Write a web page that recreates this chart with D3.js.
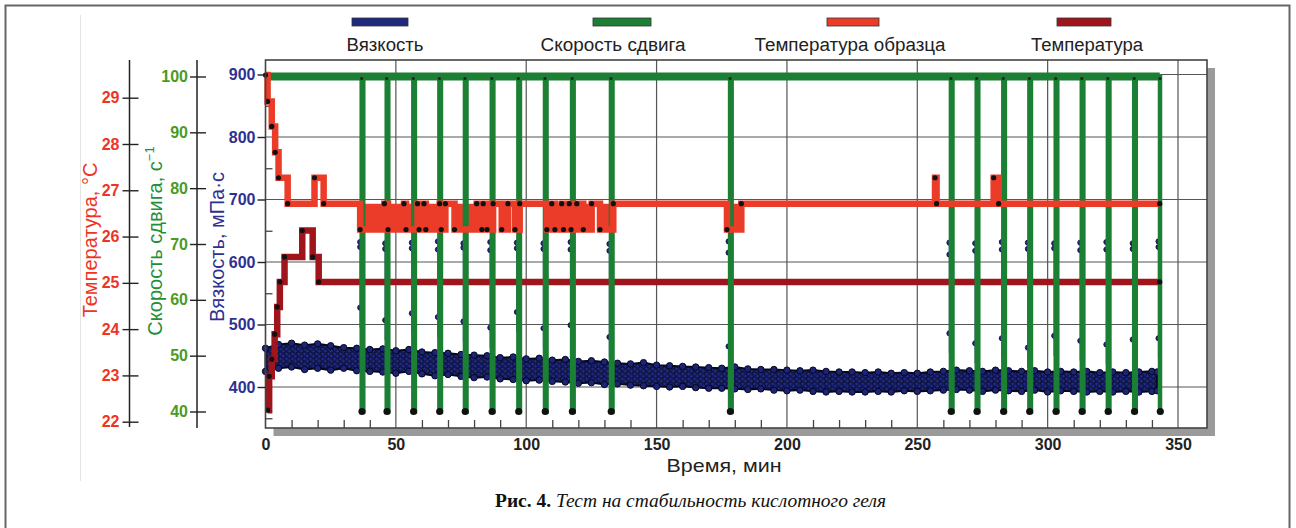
<!DOCTYPE html>
<html>
<head>
<meta charset="utf-8">
<script src="https://cdn.jsdelivr.net/npm/d3@7"></script>
<style>
  body { margin: 0; background: #fff; }
  svg { display: block; font-family: "Liberation Sans", Arial, sans-serif; }
</style>
</head>
<body>
<svg id="chart" width="1296" height="528"></svg>
<script>
// ---- data ----
const legendNames = ["Вязкость", "Скорость сдвига", "Температура образца", "Температура"];
const timeTicks = [0, 50, 100, 150, 200, 250, 300, 350];
const viscTicks = [900, 800, 700, 600, 500, 400];
const shearTicks = [100, 90, 80, 70, 60, 50, 40];
const tempTicks = [29, 28, 27, 26, 25, 24, 23, 22];

// viscosity band (upper / lower edge of the dot cloud), mPa·s
const viscTime = [0, 5, 10, 15, 20, 25, 30, 35, 40, 45, 50, 55, 60, 65, 70, 75, 80, 85, 90, 95,
  100, 105, 110, 115, 120, 125, 130, 135, 140, 145, 150, 155, 160, 165, 170, 175, 180, 185, 190, 195,
  200, 205, 210, 215, 220, 225, 230, 235, 240, 245, 250, 255, 260, 265, 270, 275, 280, 285, 290, 295,
  300, 305, 310, 315, 320, 325, 330, 335, 340, 342];
const viscUpper = [462, 468, 470, 467, 469, 466, 463, 462, 460, 461, 458, 460, 456, 455, 454, 452, 451, 450, 447, 448,
  445, 446, 443, 444, 441, 442, 440, 438, 437, 439, 435, 434, 433, 432, 431, 430, 432, 429, 428, 428,
  427, 426, 427, 425, 424, 424, 423, 424, 422, 423, 422, 424, 425, 427, 426, 425, 427, 426, 425, 426,
  424, 425, 424, 425, 423, 424, 423, 424, 425, 424];
const viscLower = [425, 430, 432, 428, 430, 427, 430, 426, 425, 424, 422, 425, 421, 418, 420, 417, 415, 416, 413, 412,
  410, 411, 409, 408, 406, 407, 404, 405, 403, 402, 401, 400, 401, 399, 398, 398, 397, 396, 397, 395,
  394, 395, 393, 392, 393, 392, 392, 393, 392, 394, 393, 394, 395, 396, 395, 393, 395, 394, 393, 395,
  392, 394, 393, 392, 393, 392, 393, 392, 393, 394];

// shear-rate drops (min) and viscosity readings at those drops
const dipTimes = [36.9, 46.5, 56.7, 66.7, 76.5, 86.8, 97.0, 107.2, 117.6, 132.5,
  178.2, 262.9, 272.8, 283.0, 293.0, 303.1, 313.1, 323.1, 333.2, 343.1];
const spikeA = [632, 630, 631, 633, 630, 632, 631, 630, 632, 629, 633, 631, 630, 632, 631, 630, 631, 632, 630, 633];
const spikeB = [624, 621, 622, 620, 623, 619, 622, 621, 620, 618, 615, 612, 618, 620, 621, 622, 619, 620, 621, 624];
const spikeMid = [527, 507, 518, 512, 505, 495, 520, 494, 499, 480, 465, 486, 470, 478, 463, 482, 474, 468, 476, 478];
const shearHigh = 100;
const shearLow = 40;
const shearEnd = 343;

// sample temperature, °C (step series)
const sampleTime = [0, 0.8, 2.4, 3.7, 5.0, 8.5, 18.8, 22.3,
  36.3, 45.6, 47.0, 53.1, 53.9, 58.3, 58.9, 60.8, 61.5, 66.8, 67.4, 69.0, 72.5, 81.0, 83.0, 83.5, 85.0, 87.3, 90.6, 93.0, 95.7, 97.5,
  107.9, 109.8, 111.0, 113.6, 114.3, 116.5, 117.2, 119.4, 121.9, 125.1, 128.3, 133.4,
  177.0, 182.5, 256.8, 257.4, 279.3, 281.2, 343];
const sampleTemp = [29.49, 28.92, 28.38, 27.82, 27.27, 26.71, 27.27, 26.71,
  26.15, 26.71, 26.15, 26.71, 26.15, 26.71, 26.15, 26.71, 26.15, 26.71, 26.15, 26.71, 26.15, 26.71, 26.15, 26.71, 26.15, 26.71, 26.15, 26.71, 26.15, 26.71,
  26.15, 26.71, 26.15, 26.71, 26.15, 26.71, 26.15, 26.71, 26.15, 26.71, 26.15, 26.71,
  26.15, 26.71, 27.27, 26.71, 27.27, 26.71, 26.71];
const sampleBase = 26.71;

// chamber temperature, °C (step series)
const tempTime = [0.8, 1.4, 2.4, 3.5, 4.5, 5.5, 7.3, 14.1, 18.1, 20.4, 343];
const tempVal = [22.25, 22.98, 23.35, 23.89, 24.48, 25.02, 25.56, 26.13, 25.56, 25.02, 25.02];

// ---- colours ----
const cNavy = "#1f2a7e", cGreen = "#1b7f34", cRed = "#ea3c28", cDark = "#a0141c";
const cNavyText = "#2e3192", cGreenText = "#4b9b1e", cGreenTitle = "#1f8f3a", cRedText = "#ee3524";

const svg = d3.select("#chart");

// scales
const x = d3.scaleLinear().domain([0, 350]).range([265.5, 1178]);
const yV = d3.scaleLinear().domain([900, 400]).range([74.5, 387]);
const yS = d3.scaleLinear().domain([100, 40]).range([76.5, 411.5]);
const yT = d3.scaleLinear().domain([29, 22]).range([97.7, 421.7]);

const box = { left: x(0), right: 1207, top: 60, bottom: 428 };

// outer frame + faint figure edge
svg.append("rect").attr("x", 5.5).attr("y", 5.5).attr("width", 1284).attr("height", 600)
  .attr("fill", "none").attr("stroke", "#666").attr("stroke-width", 2);
svg.append("line").attr("x1", 80.5).attr("x2", 80.5).attr("y1", 15).attr("y2", 481)
  .attr("stroke", "#e4e4e4").attr("stroke-width", 1);

// dotted texture for the viscosity cloud
const defs = svg.append("defs");
const pat = defs.append("pattern").attr("id", "dots").attr("patternUnits", "userSpaceOnUse")
  .attr("width", 6).attr("height", 5);
pat.append("rect").attr("width", 6).attr("height", 5).attr("fill", "#161d5e");
pat.append("circle").attr("cx", 1.5).attr("cy", 1.3).attr("r", 1.9)
  .attr("fill", "#202a86").attr("stroke", "#05081f").attr("stroke-width", 0.8);
pat.append("circle").attr("cx", 4.5).attr("cy", 3.8).attr("r", 1.9)
  .attr("fill", "#202a86").attr("stroke", "#05081f").attr("stroke-width", 0.8);

// plot box with shadow
svg.append("rect").attr("x", box.left + 8).attr("y", box.top + 8)
  .attr("width", box.right - box.left).attr("height", box.bottom - box.top)
  .attr("fill", "#9a9a9a");
svg.append("rect").attr("x", box.left).attr("y", box.top)
  .attr("width", box.right - box.left).attr("height", box.bottom - box.top)
  .attr("fill", "#fff");

// grid
svg.append("g").selectAll("line").data(timeTicks.slice(1)).join("line")
  .attr("x1", d => x(d)).attr("x2", d => x(d))
  .attr("y1", box.top).attr("y2", box.bottom)
  .attr("stroke", "#555").attr("stroke-width", 1.2);
svg.append("g").selectAll("line").data(viscTicks).join("line")
  .attr("x1", box.left).attr("x2", box.right)
  .attr("y1", d => yV(d)).attr("y2", d => yV(d))
  .attr("stroke", "#555").attr("stroke-width", 1.2);

// inner minor ticks
const minorTimes = d3.range(10, 350, 10).filter(t => t % 50 !== 0);
svg.append("g").attr("transform", `translate(0,${box.bottom})`)
  .call(d3.axisTop(x).tickValues(minorTimes).tickSize(8).tickFormat(""))
  .call(g => g.select(".domain").remove())
  .selectAll("line").attr("stroke", "#444").attr("stroke-width", 1.3);
svg.append("g").attr("transform", `translate(${box.left},0)`)
  .call(d3.axisRight(yV).tickValues([850, 750, 650, 550, 450, 350]).tickSize(7).tickFormat(""))
  .call(g => g.select(".domain").remove())
  .selectAll("line").attr("stroke", "#444").attr("stroke-width", 1.3);

// ---- viscosity ----
const band = viscTime.map((t, i) => ({ t, hi: viscUpper[i], lo: viscLower[i] }));
svg.append("path").datum(band)
  .attr("d", d3.area().x(d => x(d.t)).y0(d => yV(d.lo)).y1(d => yV(d.hi)))
  .attr("fill", "url(#dots)").attr("stroke", "#05081f").attr("stroke-width", 2);
const edgeDots = band.flatMap(d => [{ t: d.t, v: d.hi }, { t: d.t, v: d.lo }]);
svg.append("g").selectAll("circle").data(edgeDots).join("circle")
  .attr("cx", d => x(d.t)).attr("cy", d => yV(d.v)).attr("r", 3.2)
  .attr("fill", "#1c2478").attr("stroke", "#05081f").attr("stroke-width", 1);

// viscosity readings during shear drops
const spikes = dipTimes.map((t, i) => ({ t, a: spikeA[i], b: spikeB[i], m: spikeMid[i] }));
svg.append("g").selectAll("line").data(spikes).join("line")
  .attr("x1", d => x(d.t) - 1.5).attr("x2", d => x(d.t) - 1.5)
  .attr("y1", d => yV(d.a)).attr("y2", d => yV(d.m) + 20)
  .attr("stroke", cNavy).attr("stroke-width", 1.2);
svg.append("g").selectAll("circle")
  .data(spikes.flatMap(d => [{ t: d.t, v: d.a }, { t: d.t, v: d.b }, { t: d.t, v: d.m }]))
  .join("circle")
  .attr("cx", d => x(d.t) - 1.5).attr("cy", d => yV(d.v)).attr("r", 2.6)
  .attr("fill", "#1f2a86").attr("stroke", "#0a0d30").attr("stroke-width", 0.8);

// ---- chamber temperature ----
const tempData = tempTime.map((t, i) => ({ t, v: tempVal[i] }));
svg.append("path").datum(tempData)
  .attr("d", d3.line().x(d => x(d.t)).y(d => yT(d.v)).curve(d3.curveStepAfter))
  .attr("fill", "none").attr("stroke", cDark).attr("stroke-width", 6.5);

// ---- sample temperature (filled toggling region) ----
const sampleData = sampleTime.map((t, i) => ({ t, v: sampleTemp[i] }));
svg.append("path").datum(sampleData)
  .attr("d", d3.area().x(d => x(d.t)).y0(yT(sampleBase))
    .y1(d => yT(Math.min(d.v, sampleBase))).curve(d3.curveStepAfter))
  .attr("fill", cRed);

// ---- shear rate ----
const shearData = [{ t: 0, v: shearHigh }];
dipTimes.forEach(t => {
  shearData.push({ t, v: shearHigh }, { t, v: shearLow }, { t: t + 0.6, v: shearLow }, { t: t + 0.6, v: shearHigh });
});
svg.append("path").datum(shearData.filter(d => d.t <= shearEnd + 0.7))
  .attr("d", d3.line().x(d => x(d.t)).y(d => yS(d.v)))
  .attr("fill", "none").attr("stroke", cGreen).attr("stroke-width", 4.5);
svg.append("line")
  .attr("x1", x(0)).attr("x2", x(shearEnd))
  .attr("y1", yS(shearHigh)).attr("y2", yS(shearHigh))
  .attr("stroke", cGreen).attr("stroke-width", 8);

// sample temperature line on top
svg.append("path").datum(sampleData)
  .attr("d", d3.line().x(d => x(d.t)).y(d => yT(d.v)).curve(d3.curveStepAfter))
  .attr("fill", "none").attr("stroke", cRed).attr("stroke-width", 6.5);

// black data markers
svg.append("g").selectAll("circle").data(dipTimes).join("circle")
  .attr("cx", d => x(d) + 0.3).attr("cy", yS(shearLow)).attr("r", 3.6).attr("fill", "#111");
svg.append("g").selectAll("circle").data(dipTimes).join("circle")
  .attr("cx", d => x(d)).attr("cy", yS(shearHigh) + 2).attr("r", 1.6).attr("fill", "#222");
svg.append("g").selectAll("circle").data(sampleData).join("circle")
  .attr("cx", d => x(d.t)).attr("cy", d => yT(d.v)).attr("r", 2.6).attr("fill", "#111");
svg.append("g").selectAll("circle").data(tempData).join("circle")
  .attr("cx", d => x(d.t)).attr("cy", d => yT(d.v)).attr("r", 2.6).attr("fill", "#111");

// plot border
svg.append("rect").attr("x", box.left).attr("y", box.top)
  .attr("width", box.right - box.left).attr("height", box.bottom - box.top)
  .attr("fill", "none").attr("stroke", "#444").attr("stroke-width", 1.6);

// ---- axes ----
function styleTicks(g, color, x1) {
  g.select(".domain").remove();
  g.selectAll(".tick line").attr("stroke", "#222").attr("stroke-width", 1.4);
  if (x1 !== undefined) g.selectAll(".tick line").attr("x1", x1);
  g.selectAll(".tick text").attr("fill", color).style("font-size", "16px").style("font-weight", "bold")
    .style("font-family", "'Liberation Sans', Arial, sans-serif");
}

// x axis labels
svg.append("g").attr("transform", `translate(0,${box.bottom})`)
  .call(d3.axisBottom(x).tickValues(timeTicks).tickSize(0).tickPadding(11).tickFormat(d3.format("d")))
  .call(g => styleTicks(g, "#222"));

// viscosity axis
svg.append("g").attr("transform", `translate(${box.left},0)`)
  .call(d3.axisLeft(yV).tickValues(viscTicks).tickSize(8).tickPadding(2).tickFormat(d3.format("d")))
  .call(g => styleTicks(g, cNavyText));

// shear-rate axis
svg.append("line").attr("x1", 197).attr("x2", 197).attr("y1", 60).attr("y2", 428)
  .attr("stroke", "#222").attr("stroke-width", 1.5);
svg.append("g").attr("transform", "translate(197,0)")
  .call(d3.axisLeft(yS).tickValues(shearTicks).tickSize(7).tickPadding(2).tickFormat(d3.format("d")))
  .call(g => styleTicks(g, cGreenText, 9));

// temperature axis
svg.append("line").attr("x1", 129.5).attr("x2", 129.5).attr("y1", 60).attr("y2", 427)
  .attr("stroke", "#222").attr("stroke-width", 1.5);
svg.append("g").attr("transform", "translate(129.5,0)")
  .call(d3.axisLeft(yT).tickValues(tempTicks).tickSize(7).tickPadding(3).tickFormat(d3.format("d")))
  .call(g => styleTicks(g, cRedText, 9));

// axis titles
svg.append("text").attr("transform", "translate(97,240) rotate(-90)")
  .attr("text-anchor", "middle").attr("fill", cRedText).style("font-size", "20px")
  .text("Температура, °C");
const sTitle = svg.append("text").attr("transform", "translate(162,241) rotate(-90)")
  .attr("text-anchor", "middle").attr("fill", cGreenTitle).style("font-size", "20px");
sTitle.append("tspan").text("Скорость сдвига, с");
sTitle.append("tspan").attr("dy", -8).style("font-size", "13px").text("−1");
svg.append("text").attr("transform", "translate(224,247) rotate(-90)")
  .attr("text-anchor", "middle").attr("fill", cNavyText).style("font-size", "20px")
  .text("Вязкость, мПа·с");

svg.append("text").attr("x", 724).attr("y", 472).attr("text-anchor", "middle")
  .attr("fill", "#222").style("font-size", "19px")
  .attr("textLength", 115).attr("lengthAdjust", "spacingAndGlyphs")
  .text("Время, мин");

// ---- legend ----
const legendColors = [cNavy, cGreen, cRed, cDark];
const legendX = [352, 593, 827, 1057];
const legendW = [56, 58, 52, 54];
const legendTextX = [385, 613, 850, 1087];
const legendTextW = [77, 145, 191, 112];
const lg = svg.append("g").selectAll("g").data(legendNames).join("g");
lg.append("rect")
  .attr("x", (d, i) => legendX[i]).attr("y", 18)
  .attr("width", (d, i) => legendW[i]).attr("height", 8)
  .attr("fill", (d, i) => legendColors[i]).attr("stroke", "#333").attr("stroke-width", 0.8);
lg.append("text")
  .attr("x", (d, i) => legendTextX[i]).attr("y", 51)
  .attr("text-anchor", "middle").attr("fill", "#222").style("font-size", "18px")
  .attr("textLength", (d, i) => legendTextW[i]).attr("lengthAdjust", "spacingAndGlyphs")
  .text(d => d);

// ---- caption ----
const cap = svg.append("text").attr("x", 495).attr("y", 507)
  .style("font-family", "'Liberation Serif', 'Times New Roman', serif").style("font-size", "19px")
  .attr("fill", "#111").attr("textLength", 391).attr("lengthAdjust", "spacingAndGlyphs");
cap.append("tspan").style("font-weight", "bold").text("Рис. 4.");
cap.append("tspan").style("font-style", "italic").text(" Тест на стабильность кислотного геля");
</script>
</body>
</html>
